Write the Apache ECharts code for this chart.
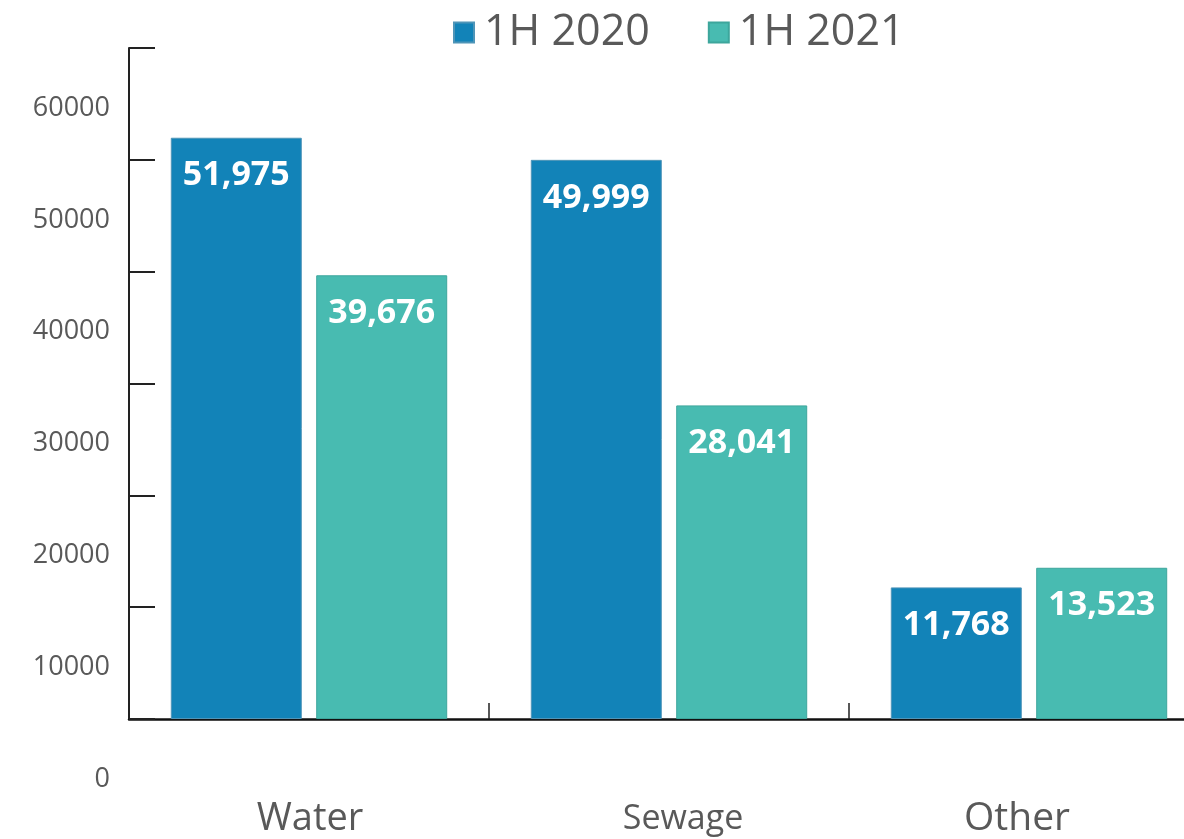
<!DOCTYPE html>
<html>
<head>
<meta charset="utf-8">
<script src="https://cdn.jsdelivr.net/npm/echarts@6/dist/echarts.min.js"></script>
<style>
  html, body { margin: 0; padding: 0; background: #ffffff; }
  #chart { width: 1184px; height: 839px; }
</style>
</head>
<body>
<div id="chart"></div>
<script>
// Revenue by segment, first half of each year
const categories = ['Water', 'Sewage', 'Other'];
const categoryFontSizes = [38, 34, 39];
const categoryShifts = [2, 28, -24];   // horizontal nudge of each category name
const seriesNames = ['1H 2020', '1H 2021'];
const values2020 = [51975, 49999, 11768];
const values2021 = [39676, 28041, 13523];
const yTicks = [0, 10000, 20000, 30000, 40000, 50000, 60000];

const colors = ['#1283b8', '#48bbb1'];
const borders = ['#4f95b8', '#3da69c'];

const chart = echarts.init(document.getElementById('chart'));

const barLabel = {
  show: true,
  position: 'insideTop',
  distance: 21,
  color: '#ffffff',
  fontFamily: 'Open Sans',
  fontWeight: 'bold',
  fontSize: 34,
  formatter: p => p.value.toLocaleString('en-US')
};

const yMin = yTicks[0];
const yMax = yTicks[yTicks.length - 1];
const yStep = yTicks[1] - yTicks[0];

// rich styles for the category names
const catRich = {};
categories.forEach((c, i) => {
  const s = categoryShifts[i];
  catRich['c' + i] = {
    fontSize: categoryFontSizes[i],
    fontFamily: 'Open Sans',
    color: '#595959',
    padding: s >= 0 ? [0, 0, 0, s] : [0, -s, 0, 0]
  };
});

chart.setOption({
  animation: false,
  backgroundColor: '#ffffff',
  color: colors,
  legend: {
    data: seriesNames,
    left: 448,
    top: 6,
    icon: 'rect',
    itemWidth: 20,
    itemHeight: 20,
    itemGap: 58,
    textStyle: {
      fontFamily: 'Open Sans',
      fontSize: 43,
      color: '#595959',
      padding: [0, 0, 20, 5]
    }
  },
  grid: [
    // plot area; it runs past the right edge, three 360px bands
    { left: 129, top: 48, bottom: 120, width: 1080, containLabel: false, outerBoundsMode: 'none' },
    // value scale printed half a step below the tick marks
    { left: 129, top: 108, bottom: 60, width: 1080, containLabel: false, outerBoundsMode: 'none' }
  ],
  xAxis: [
    {
      type: 'category',
      gridIndex: 0,
      data: categories,
      axisLine: { lineStyle: { color: '#111111', width: 2.5 } },
      axisTick: { show: true, inside: true, length: 16, lineStyle: { color: '#222222', width: 1.5 } },
      axisLabel: {
        margin: 100,
        verticalAlign: 'middle',
        formatter: (v, i) => '{c' + i + '|' + v + '}',
        rich: catRich
      }
    },
    { type: 'category', gridIndex: 1, data: categories, show: false }
  ],
  yAxis: [
    {
      type: 'value',
      gridIndex: 0,
      min: yMin,
      max: yMax,
      interval: yStep,
      splitLine: { show: false },
      axisLine: { show: true, lineStyle: { color: '#222222', width: 2 } },
      axisTick: { show: true, inside: true, length: 26, lineStyle: { color: '#222222', width: 2 } },
      axisLabel: { show: false }
    },
    {
      type: 'value',
      gridIndex: 1,
      min: yMin,
      max: yMax,
      interval: yStep,
      splitLine: { show: false },
      axisLine: { show: false },
      axisTick: { show: false },
      axisLabel: {
        margin: 19,
        color: '#595959',
        fontFamily: 'Open Sans',
        fontSize: 27,
        showMinLabel: true,
        showMaxLabel: true,
        formatter: v => String(v)
      }
    }
  ],
  series: [
    {
      name: seriesNames[0],
      type: 'bar',
      xAxisIndex: 0,
      yAxisIndex: 0,
      data: values2020,
      barWidth: 131,
      barGap: '11%',
      itemStyle: { color: colors[0], borderColor: borders[0], borderWidth: 1 },
      label: barLabel
    },
    {
      name: seriesNames[1],
      type: 'bar',
      xAxisIndex: 0,
      yAxisIndex: 0,
      data: values2021,
      barWidth: 131,
      itemStyle: { color: colors[1], borderColor: borders[1], borderWidth: 1 },
      label: barLabel
    }
  ]
});
</script>
</body>
</html>
